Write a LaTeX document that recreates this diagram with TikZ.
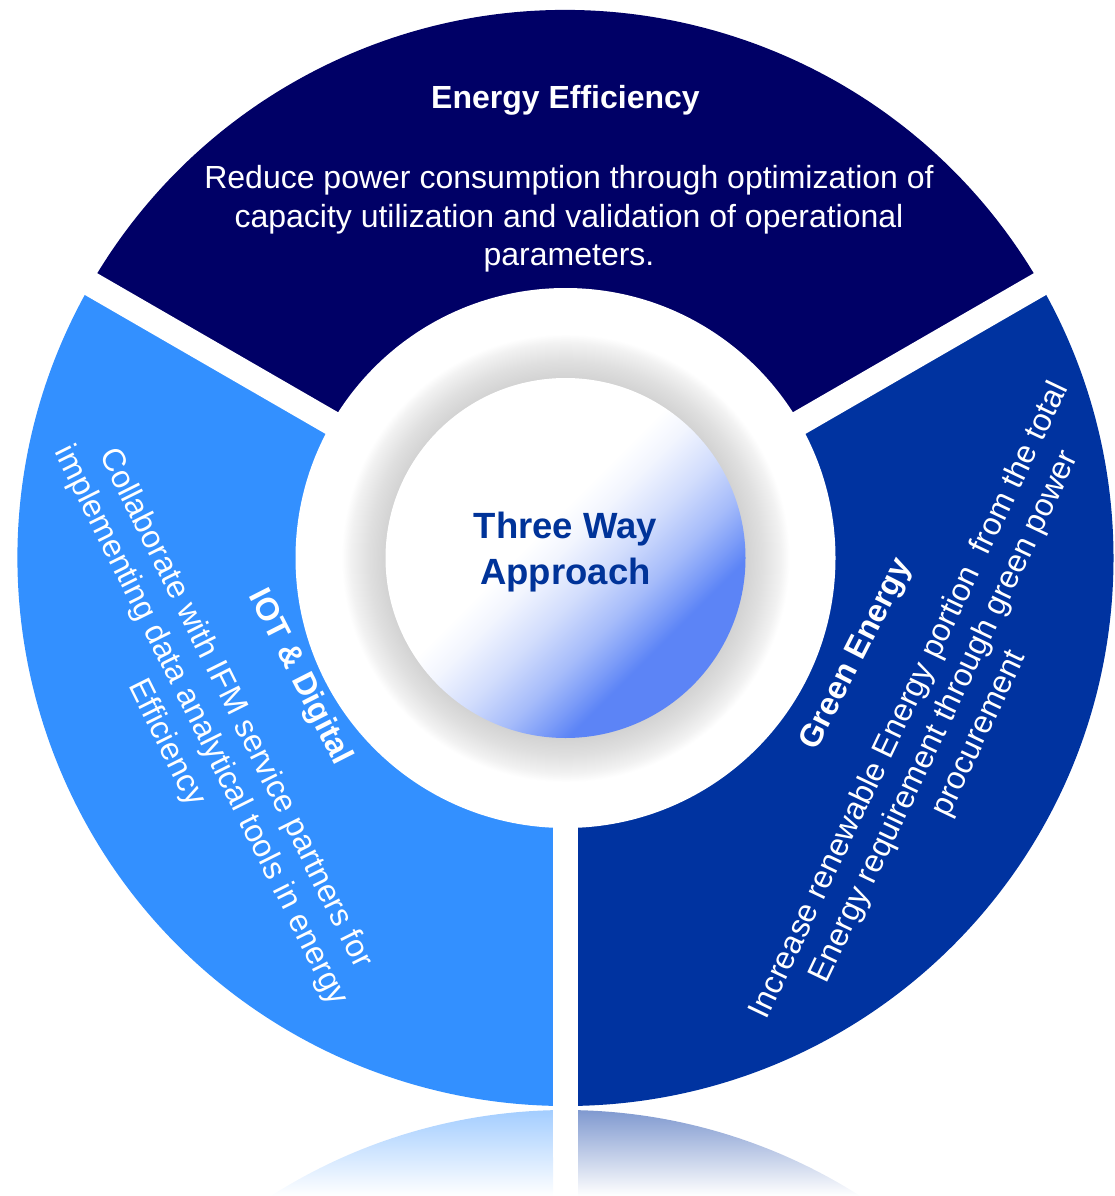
\documentclass[tikz,border=0pt]{standalone}
\usepackage{fontspec}
\setmainfont{Liberation Sans}
\usetikzlibrary{calc}
\definecolor{topseg}{HTML}{000066}
\definecolor{rightseg}{HTML}{0033A0}
\definecolor{leftseg}{HTML}{3390FF}
\definecolor{ctext}{HTML}{003399}
\definecolor{shgray}{HTML}{D2D2D2}
\definecolor{sphblue}{HTML}{5C84F6}
\pgfdeclareradialshading{hubshade}{\pgfpoint{0bp}{0bp}}{color(0bp)=(shgray); color(20bp)=(shgray); color(22bp)=(shgray!70!white); color(24bp)=(shgray!30!white); color(25bp)=(white); color(50bp)=(white)}
\pgfdeclareverticalshading{sphshade}{100bp}{color(0bp)=(sphblue); color(32bp)=(sphblue); color(35bp)=(sphblue!80!white); color(39bp)=(sphblue!55!white); color(45bp)=(sphblue!28!white); color(51bp)=(sphblue!8!white); color(55bp)=(white); color(100bp)=(white)}
\begin{document}
\begin{tikzpicture}[x=1pt,y=1pt,
  segtext/.style={text=white, font=\fontsize{32}{38.5}\selectfont, align=center, inner sep=0pt},
  segtitle/.style={text=white, font=\bfseries\fontsize{32}{38.5}\selectfont, inner sep=0pt},
  gapline/.style={white, line width=25pt}]
\useasboundingbox (0,0) rectangle (1115,-1196);
\coordinate (C) at (565.5,-558);
\coordinate (M) at (565.5,-1658);
% segments
\fill[topseg] (C) -- ($(C)+(30:548pt)$) arc[start angle=30,end angle=150,radius=548pt] -- cycle;
\fill[leftseg] (C) -- ($(C)+(150:548pt)$) arc[start angle=150,end angle=270,radius=548pt] -- cycle;
\fill[rightseg] (C) -- ($(C)+(270:548pt)$) arc[start angle=270,end angle=390,radius=548pt] -- cycle;
% reflection
\shade[top color=leftseg!45!white, bottom color=white] ($(M)+(91.31:548pt)$) arc[start angle=91.31,end angle=122.54,radius=548pt] -- (553,-1196) -- cycle;
\shade[top color=rightseg!50!white, bottom color=white] ($(M)+(88.69:548pt)$) arc[start angle=88.69,end angle=57.46,radius=548pt] -- (578,-1196) -- cycle;
% gaps
\coordinate (g1) at ($(C)+(30:600pt)$);
\coordinate (g2) at ($(C)+(150:600pt)$);
\coordinate (g3) at ($(C)+(270:560pt)$);
\draw[gapline] (C) -- (g1);
\draw[gapline] (C) -- (g2);
\draw[gapline] (C) -- (g3);
% hub
\fill[white] (C) circle[radius=270pt];
\shade[shading=hubshade] (C) circle[radius=224pt];
\shade[shading=sphshade, shading angle=45] (C) circle[radius=180pt];
% texts
\node[segtitle] (eeT) at (565.5,-100) {Energy Efficiency};
\node[segtext] (eeB) at (569,-219) {Reduce power consumption through optimization of\\capacity utilization and validation of operational\\parameters.};
\node[segtitle, rotate=-63] (iotT) at ($(C)+(210:290pt)+(120:30pt)$) {IOT \& Digital};
\node[segtext, rotate=-63.5] (iotB) at ($(C)+(210:400pt)+(120:37pt)$) {Collaborate with IFM service partners for\\implementing data analytical tools in energy\\Efficiency};
\node[segtitle, rotate=63] (geT) at ($(C)+(-30:301pt)+(60:62pt)$) {Green Energy};
\node[segtext, rotate=64.5] (geB) at ($(C)+(-30:408pt)+(60:52pt)$) {Increase renewable Energy portion~ from the total\\Energy requirement through green power\\procurement};
\node[text=ctext, font=\bfseries\fontsize{36.5}{46}\selectfont, align=center, inner sep=0pt] (core) at (565.5,-552.5) {Three Way\\Approach};
\end{tikzpicture}
\end{document}
